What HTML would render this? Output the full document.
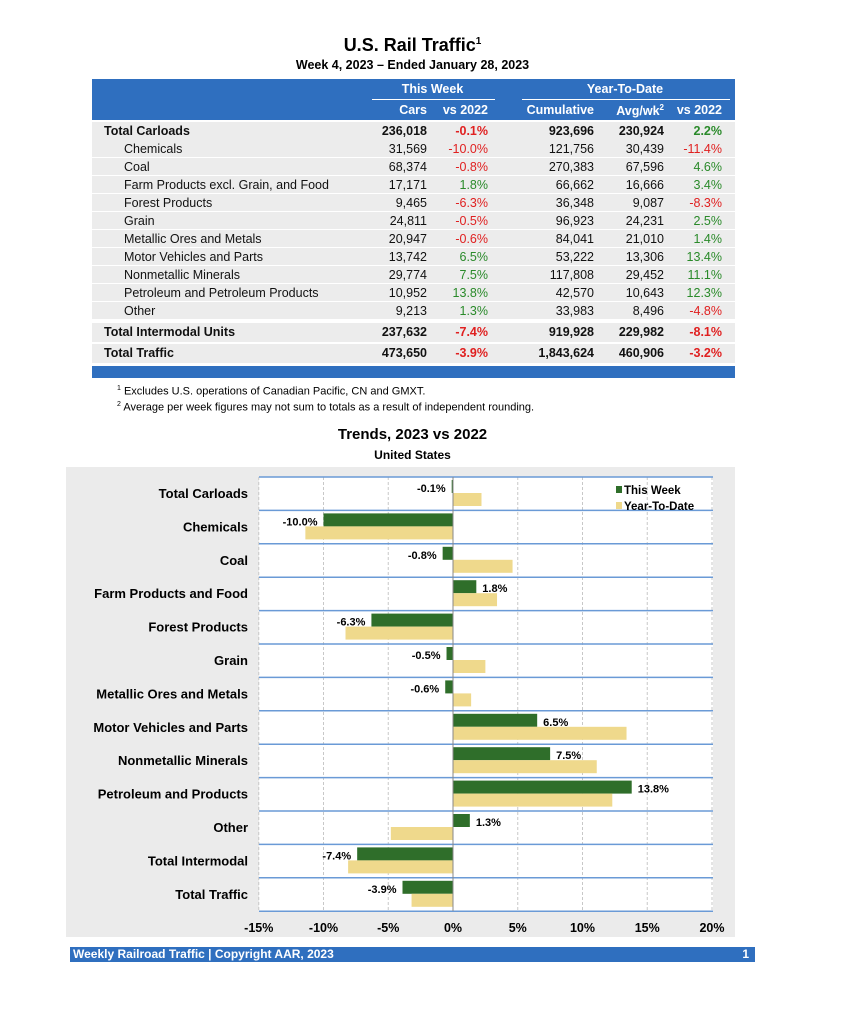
<!DOCTYPE html>
<html><head><meta charset="utf-8"><style>
body{margin:0;width:855px;height:1024px;background:#fff;font-family:"Liberation Sans",Arial,sans-serif;position:relative;overflow:hidden}
.a{position:absolute;white-space:nowrap}
.r{text-align:right}
.row{position:absolute;left:92px;width:643px;height:17px;background:#ececec;font-size:12.5px;color:#111}
.row span{position:absolute;top:2px}
.red{color:#e02020}.grn{color:#2a8a2a}
.b{font-weight:bold}
</style></head><body>
<div class="a b" style="left:0;width:825px;text-align:center;top:35px;font-size:18px">U.S. Rail Traffic<sup style="font-size:10px">1</sup></div>
<div class="a b" style="left:0;width:825px;text-align:center;top:58px;font-size:12.5px">Week 4, 2023 – Ended January 28, 2023</div>
<div class="a" style="left:92px;top:79px;width:643px;height:41px;background:#2f6fbf"></div>
<div class="a b" style="left:370px;width:125px;text-align:center;top:82px;color:#fff;font-size:12.5px">This Week</div>
<div class="a" style="left:372px;top:99px;width:123px;height:1px;background:#fff"></div>
<div class="a b" style="left:520px;width:210px;text-align:center;top:82px;color:#fff;font-size:12.5px">Year-To-Date</div>
<div class="a" style="left:522px;top:99px;width:208px;height:1px;background:#fff"></div>
<div class="a b r" style="right:428px;top:103px;color:#fff;font-size:12.5px">Cars</div>
<div class="a b r" style="right:367px;top:103px;color:#fff;font-size:12.5px">vs 2022</div>
<div class="a b r" style="right:261px;top:103px;color:#fff;font-size:12.5px">Cumulative</div>
<div class="a b r" style="right:191px;top:103px;color:#fff;font-size:12.5px">Avg/wk<sup style="font-size:8px">2</sup></div>
<div class="a b r" style="right:133px;top:103px;color:#fff;font-size:12.5px">vs 2022</div>
<div id="rows"></div>
<div class="a" style="left:92px;top:366px;width:643px;height:12px;background:#2f6fbf"></div>
<div class="a" style="left:117px;top:385px;font-size:11px"><sup style="font-size:7px">1</sup> Excludes U.S. operations of Canadian Pacific, CN and GMXT.</div>
<div class="a" style="left:117px;top:401px;font-size:11px"><sup style="font-size:7px">2</sup> Average per week figures may not sum to totals as a result of independent rounding.</div>
<div class="a b" style="left:0;width:825px;text-align:center;top:426px;font-size:15px">Trends, 2023 vs 2022</div>
<div class="a b" style="left:0;width:825px;text-align:center;top:448px;font-size:12px">United States</div>
<div class="a" style="left:66px;top:467px;width:669px;height:470px;background:#ebebeb"></div>
<svg class="a" style="left:0;top:0" width="855" height="1024" id="ch"></svg>
<div class="a" style="left:70px;top:947px;width:685px;height:15px;background:#2f6fbf;color:#fff;font-size:12px;font-weight:bold;line-height:15px"><span style="margin-left:3px">Weekly Railroad Traffic | Copyright AAR, 2023</span><span style="position:absolute;right:6px">1</span></div>
<script>
var D=[["Total Carloads","236,018","-0.1%","923,696","230,924","2.2%",1],["Chemicals","31,569","-10.0%","121,756","30,439","-11.4%"],["Coal","68,374","-0.8%","270,383","67,596","4.6%"],["Farm Products excl. Grain, and Food","17,171","1.8%","66,662","16,666","3.4%"],["Forest Products","9,465","-6.3%","36,348","9,087","-8.3%"],["Grain","24,811","-0.5%","96,923","24,231","2.5%"],["Metallic Ores and Metals","20,947","-0.6%","84,041","21,010","1.4%"],["Motor Vehicles and Parts","13,742","6.5%","53,222","13,306","13.4%"],["Nonmetallic Minerals","29,774","7.5%","117,808","29,452","11.1%"],["Petroleum and Petroleum Products","10,952","13.8%","42,570","10,643","12.3%"],["Other","9,213","1.3%","33,983","8,496","-4.8%"],["Total Intermodal Units","237,632","-7.4%","919,928","229,982","-8.1%",1],["Total Traffic","473,650","-3.9%","1,843,624","460,906","-3.2%",1]];
var h="",tops=[122,140,158,176,194,212,230,248,266,284,302,323,344];
D.forEach(function(d,i){var b=d[6]?" b":"";var c=function(v){return v[0]=="-"?"red":"grn"};
h+='<div class="row'+b+'" style="top:'+tops[i]+'px;'+(d[6]?'height:19px;':'')+'"><span style="left:'+(d[6]?12:32)+'px">'+d[0]+'</span><span style="right:308px">'+d[1]+'</span><span class="'+c(d[2])+'" style="right:247px">'+d[2]+'</span><span style="right:141px">'+d[3]+'</span><span style="right:71px">'+d[4]+'</span><span class="'+c(d[5])+'" style="right:13px">'+d[5]+'</span></div>';});
document.getElementById("rows").innerHTML=h;
var L=["Total Carloads","Chemicals","Coal","Farm Products and Food","Forest Products","Grain","Metallic Ores and Metals","Motor Vehicles and Parts","Nonmetallic Minerals","Petroleum and Products","Other","Total Intermodal","Total Traffic"];
var W=[-0.1,-10,-0.8,1.8,-6.3,-0.5,-0.6,6.5,7.5,13.8,1.3,-7.4,-3.9],Y=[2.2,-11.4,4.6,3.4,-8.3,2.5,1.4,13.4,11.1,12.3,-4.8,-8.1,-3.2];
var z=453,s=12.95,t=477,rh=33.4,g="";
g+='<rect x="259" y="477" width="454" height="434" fill="#fff"/>';
for(var p=-15;p<=20;p+=5){var x=z+p*s;g+='<line x1="'+x+'" y1="477" x2="'+x+'" y2="911" stroke="#c8c8c8" stroke-dasharray="3,2"/>';g+='<text x="'+x+'" y="932" text-anchor="middle" font-size="12.5" font-weight="bold">'+p+'%</text>';}
for(var i=0;i<=13;i++){var y=t+i*rh;g+='<line x1="259" y1="'+y+'" x2="713" y2="'+y+'" stroke="#6a9ad6" stroke-width="1.5"/>';}
for(i=0;i<13;i++){var y0=t+i*rh,w=W[i],v=Y[i];
g+='<text x="248" y="'+(y0+21)+'" text-anchor="end" font-size="13" font-weight="bold">'+L[i]+'</text>';
g+='<rect x="'+Math.min(z,z+w*s)+'" y="'+(y0+3)+'" width="'+Math.max(1,Math.abs(w*s))+'" height="13" fill="#2f6e2a"/>';
g+='<rect x="'+Math.min(z,z+v*s)+'" y="'+(y0+16)+'" width="'+Math.abs(v*s)+'" height="13" fill="#efd98c"/>';
var lx=w<0?z+w*s-6:z+w*s+6;g+='<text x="'+lx+'" y="'+(y0+15)+'" text-anchor="'+(w<0?"end":"start")+'" font-size="11" font-weight="bold">'+w.toFixed(1)+'%</text>';}
g+='<line x1="'+z+'" y1="477" x2="'+z+'" y2="911" stroke="#888"/>';
g+='<rect x="616" y="486" width="6" height="7" fill="#2f6e2a"/><text x="624" y="494" font-size="11.5" font-weight="bold">This Week</text>';
g+='<rect x="616" y="502" width="6" height="7" fill="#efd98c"/><text x="624" y="510" font-size="11.5" font-weight="bold">Year-To-Date</text>';
document.getElementById("ch").innerHTML=g;
</script>
</body></html>
